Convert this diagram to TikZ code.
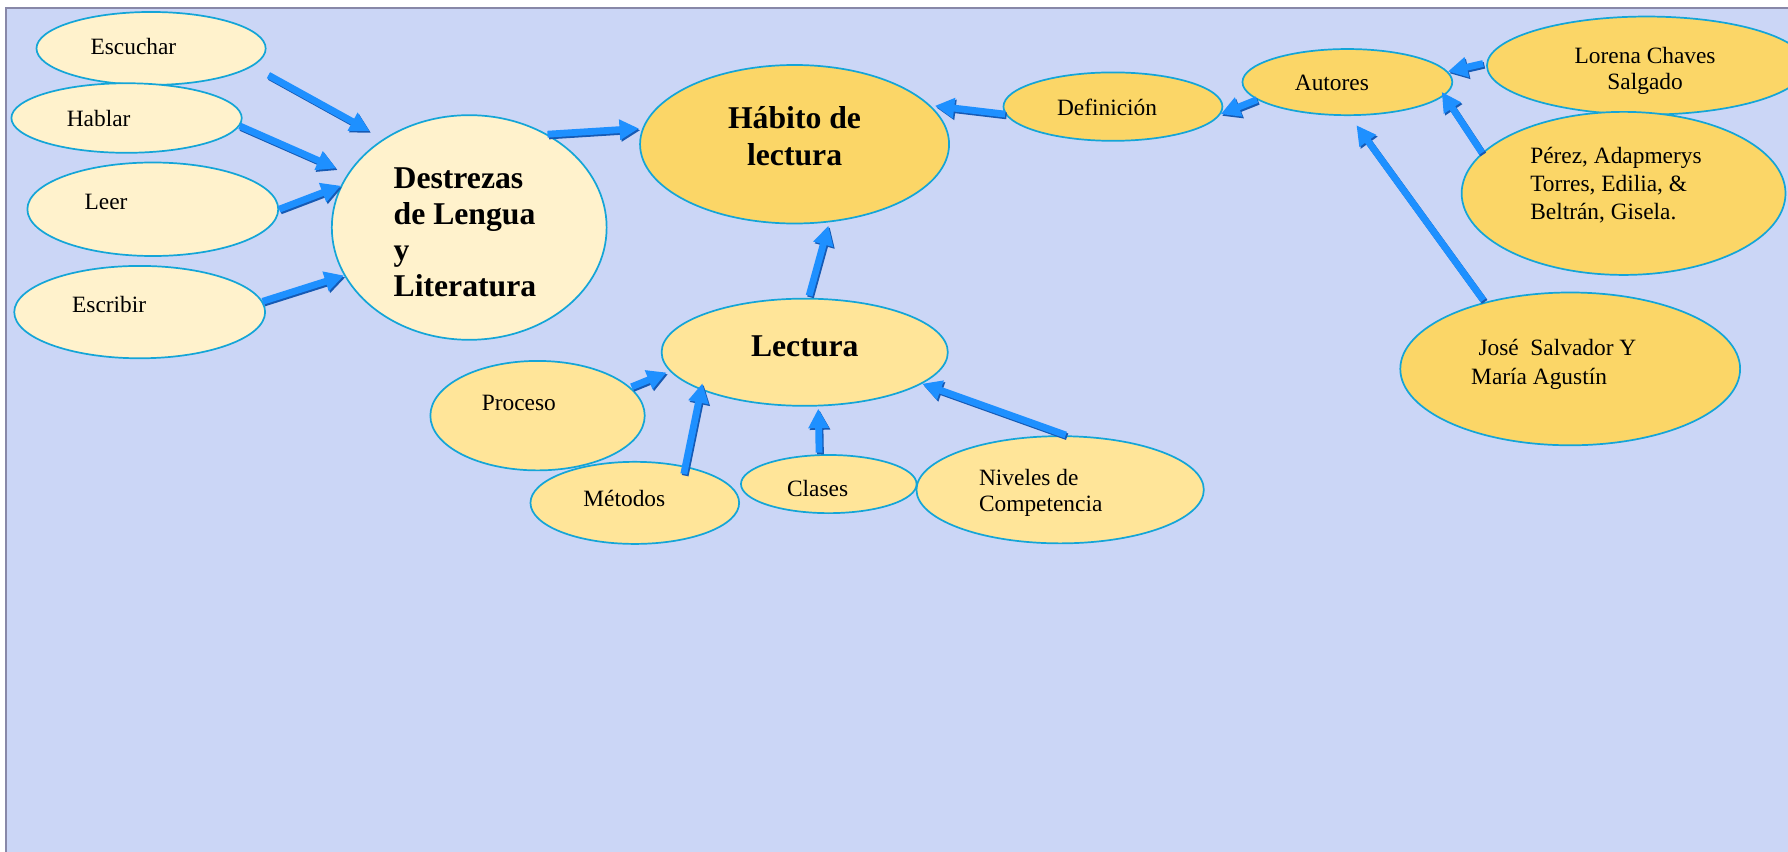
\documentclass[tikz,border=0pt]{standalone}
\usepackage{fontspec}
\setmainfont{Liberation Serif}
\usetikzlibrary{shapes.geometric,arrows.meta}
\definecolor{bgc}{RGB}{203,214,246}
\definecolor{framec}{RGB}{136,136,168}
\definecolor{ncyan}{RGB}{20,165,215}
\definecolor{creamc}{RGB}{255,242,204}
\definecolor{goldc}{RGB}{251,214,103}
\definecolor{lightc}{RGB}{255,229,153}
\definecolor{abl}{RGB}{30,144,255}
\definecolor{abd}{RGB}{22,90,180}
\tikzset{
  nd/.style={ellipse, draw=ncyan, line width=1.5pt, inner sep=0pt},
  cA/.style={nd, fill=creamc},
  cB/.style={nd, fill=goldc},
  cC/.style={nd, fill=lightc},
  txt/.style={inner sep=0pt, anchor=base, font=\fontsize{20.5}{24}\selectfont},
  btxt/.style={inner sep=0pt, anchor=base, font=\bfseries\fontsize{27.8}{31.7}\selectfont},
  arr/.style={line width=6pt, color=abl, -{Triangle[width=17pt,length=17pt]},
    preaction={draw=abd, line width=6pt, -{Triangle[width=17pt,length=17pt]},
      transform canvas={shift={(1.2pt,-1.5pt)}}}}
}
\begin{document}
\begin{tikzpicture}[x=1pt,y=-1pt]
\useasboundingbox (0,0) rectangle (1568,747);
\fill[white] (0,0) rectangle (1568,747);
\fill[bgc] (5,7) rectangle (1568,747);
\draw[framec, line width=1.8pt] (5,747) -- (5,7) -- (1568,7);

% left cluster
\node[cA, minimum width=201pt, minimum height=64pt] (esc) at (132.5,42.5) {};
\node[cA, minimum width=202pt, minimum height=61pt] (hab) at (111,103.5) {};
\node[cA, minimum width=220pt, minimum height=82pt] (lee) at (134,183.5) {};
\node[cA, minimum width=220pt, minimum height=81pt] (esb) at (122.5,273.7) {};
\node[cA, minimum width=241pt, minimum height=197pt] (des) at (411.5,199.5) {};
\node[txt] (escT) at (117,48.2) {Escuchar};
\node[txt] (habT) at (86.5,110.5) {Hablar};
\node[txt] (leeT) at (93,183.3) {Leer};
\node[txt] (esbT) at (95.7,274) {Escribir};
\node[btxt, anchor=base west, align=left] (desT) at (345,260) {Destrezas\\de Lengua\\y\\Literatura};

% centre
\node[cB, minimum width=271pt, minimum height=139pt] (hbt) at (696.8,126.5) {};
\node[btxt, align=center, font=\bfseries\fontsize{27.8}{32}\selectfont] (hbtT) at (696.8,144.7) {Hábito de\\lectura};
\node[cC, minimum width=251pt, minimum height=94pt] (lec) at (705.7,308.9) {};
\node[btxt] (lecT) at (705.7,312.9) {Lectura};
\node[cC, minimum width=188pt, minimum height=96pt] (pro) at (471.4,364.5) {};
\node[cC, minimum width=183pt, minimum height=72pt] (met) at (556.7,441) {};
\node[cC, minimum width=154pt, minimum height=51pt] (cla) at (726.8,424.5) {};
\node[cC, minimum width=252pt, minimum height=94pt] (niv) at (929.7,429.5) {};
\node[txt] (proT) at (455,359.6) {Proceso};
\node[txt] (metT) at (547.5,443.8) {Métodos};
\node[txt] (claT) at (717,435) {Clases};
\node[txt, anchor=base west, align=left, font=\fontsize{20.5}{23.4}\selectfont] (nivT) at (858.4,448.8) {Niveles de\\Competencia};

% right cluster
\node[cB, minimum width=192pt, minimum height=60pt] (def) at (976,93.5) {};
\node[txt] (defT) at (970.8,100.9) {Definición};
\node[cB, minimum width=184pt, minimum height=58pt] (aut) at (1181.6,72) {};
\node[txt] (autT) at (1168,79.5) {Autores};
\node[cB, minimum width=280pt, minimum height=86pt] (lor) at (1444,57.5) {};
\node[txt, align=center, font=\fontsize{20.5}{23}\selectfont] (lorT) at (1442.7,78.4) {Lorena Chaves\\Salgado};
\node[cB, minimum width=284pt, minimum height=143pt] (per) at (1423.8,169.6) {};
\node[txt, anchor=base west, align=left, font=\fontsize{20.5}{24.3}\selectfont] (perT) at (1341.8,192.4) {Pérez, Adapmerys\\Torres, Edilia, \&\\Beltrán, Gisela.};
\node[cB, minimum width=298pt, minimum height=134pt] (jos) at (1377,323.5) {};
\node[txt, anchor=base west, align=left, font=\fontsize{20.5}{25.4}\selectfont] (josT) at (1290,336.8) {\hspace*{6.4pt}José\ \ Salvador Y\\María Agustín};

% connectors
\draw[arr, shorten <=16pt, shorten >=14pt] (esc.-10) -- (des.134);
\draw[arr, shorten >=11pt] (hab.-4) -- (des.156.6);
\draw[arr] (lee.0) -- (des.162);
\draw[arr] (esb.5.6) -- (des.201);
\draw[arr, shorten >=3pt] (des.50) -- (hbt.174);
\draw[arr, shorten >=4pt] (def.184.5) -- (hbt.16.3);
\draw[arr, shorten <=2pt, shorten >=3pt] (lec.86) -- (hbt.-66.6);
\draw[arr] (aut.191) -- (def.-4.5);
\draw[arr, shorten <=3pt] (lor.179) -- (aut.6);
\draw[arr, shorten >=-4pt] (per.164.5) -- (aut.-8.2);
\draw[arr, shorten <=2pt, shorten >=10pt] (jos.142.3) -- (aut.-86.5);
\draw[arr, shorten <=1pt, shorten >=3pt] (pro.17.3) -- (lec.188.9);
\draw[arr, shorten <=-7pt, shorten >=-6pt] (met.36.3) -- (lec.200.3);
\draw[arr, shorten <=1.5pt, shorten >=2pt] (cla.108.9) -- (lec.-76.4);
\draw[arr, shorten <=1pt] (niv.83.2) -- (lec.-15.9);
\end{tikzpicture}
\end{document}
